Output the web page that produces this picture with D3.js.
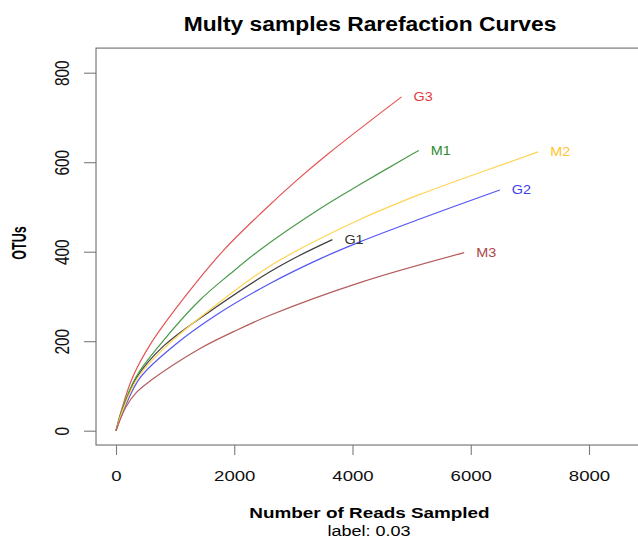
<!DOCTYPE html>
<html>
<head>
<meta charset="utf-8">
<script src="https://cdn.jsdelivr.net/npm/d3@7"></script>
<style>
  body { margin: 0; background: #fff; }
  svg { display: block; font-family: "Liberation Sans", Arial, Helvetica, sans-serif; }
</style>
</head>
<body>
<div id="chart-area"></div>
<script>
// DATA (reads sampled, OTUs)
// =================
var samples = ['G1', 'G2', 'G3', 'M1', 'M2', 'M3'];

var G1 = [[0, 0], [100, 44], [350, 119], [811, 190], [1702, 277], [2604, 355], [3111, 392], [3660, 427]];
var G2 = [[0, 0], [120, 43], [406, 118], [1000, 192], [1702, 259], [2604, 329], [3449, 384], [4125, 422], [5139, 473], [6492, 538]];
var G3 = [[0, 0], [90, 45], [276, 118], [586, 194], [1200, 305], [1826, 404], [2491, 491], [3026, 556], [3600, 620], [4830, 746]];
var M1 = [[0, 0], [95, 44], [333, 119], [756, 194], [1420, 292], [1927, 350], [2434, 404], [3449, 496], [4125, 550], [4970, 615], [5122, 626]];
var M2 = [[0, 0], [110, 44], [372, 119], [900, 195], [1702, 282], [2604, 368], [3449, 429], [4125, 472], [4435, 490], [5139, 528], [6267, 582], [7140, 623]];
var M3 = [[0, 0], [163, 52], [350, 86], [586, 112], [1400, 182], [2000, 222], [2604, 258], [4125, 331], [5889, 398]];

var curves = { G1: G1, G2: G2, G3: G3, M1: M1, M2: M2, M3: M3 };

var xTicks = [0, 2000, 4000, 6000, 8000];
var yTicks = [0, 200, 400, 600, 800];

var title = 'Multy samples Rarefaction Curves';
var xTitle = 'Number of Reads Sampled';
var subTitle = 'label: 0.03';
var yTitle = 'OTUs';

// STYLES
// =================
var lineColor = { G1: '#3c3c3c', G2: '#5555f5', G3: '#e45454', M1: '#4c9a4c', M2: '#ffd452', M3: '#b45c5c' };
var textColor = { G1: '#333333', G2: '#3d3de8', G3: '#e03c3c', M1: '#2e8a2e', M2: '#ffc42e', M3: '#ad4545' };
var stretch = 1.2;   // the picture's text is a bit wide

// CANVAS
// =================
var W = 638, H = 539;

var svg = d3.select('#chart-area')
    .append('svg')
        .attr('width', W)
        .attr('height', H);

svg.append('rect')
    .attr('width', W)
    .attr('height', H)
    .attr('fill', '#fff');

// SCALES
var x = d3.scaleLinear().domain([0, 8000]).range([116, 589]);
var y = d3.scaleLinear().domain([0, 800]).range([430.7, 72.7]);

// plot box (right side runs off the picture)
var bx0 = x(-338), bx1 = x(8990), by0 = y(855), by1 = y(-32);
svg.append('rect')
    .attr('x', bx0)
    .attr('y', by0)
    .attr('width', bx1 - bx0)
    .attr('height', by1 - by0)
    .attr('fill', 'none')
    .attr('stroke', '#6e6e6e')
    .attr('stroke-width', 1.1);

// AXES
// =================
var xAxis = d3.axisBottom(x)
    .tickValues(xTicks)
    .tickSize(10)
    .tickPadding(12)
    .tickFormat(d3.format('d'));

var gx = svg.append('g')
    .attr('class', 'x axis')
    .attr('transform', 'translate(0,' + by1 + ')')
    .call(xAxis);
gx.select('.domain').remove();
gx.selectAll('line').attr('stroke', '#7a7a7a').attr('stroke-width', 1.1);
gx.selectAll('text')
    .attr('font-size', '15.5px')
    .attr('fill', '#111')
    .attr('y', 0)
    .attr('dy', 0)
    .attr('transform', 'translate(0,35.5) scale(' + stretch + ',1)');

var yAxis = d3.axisLeft(y)
    .tickValues(yTicks)
    .tickSize(12)
    .tickFormat(d3.format('d'));

var gy = svg.append('g')
    .attr('class', 'y axis')
    .attr('transform', 'translate(' + bx0 + ',0)')
    .call(yAxis);
gy.select('.domain').remove();
gy.selectAll('line').attr('stroke', '#7a7a7a').attr('stroke-width', 1.1);
gy.selectAll('text')
    .attr('font-size', '15.5px')
    .attr('fill', '#111')
    .attr('x', 0)
    .attr('dy', 0)
    .attr('text-anchor', 'middle')
    .attr('transform', 'translate(-27.5,0) scale(1.3,1) rotate(-90)');

// CURVES
// =================
var line = d3.line()
    .x(function (d) { return x(d[0]); })
    .y(function (d) { return y(d[1]); })
    .curve(d3.curveCatmullRom.alpha(0.5));

svg.append('g')
    .selectAll('path')
    .data(samples)
    .enter()
    .append('path')
        .attr('d', function (s) { return line(curves[s]); })
        .attr('fill', 'none')
        .attr('stroke', function (s) { return lineColor[s]; })
        .attr('stroke-width', 1.2);

// sample names at the end of each curve
svg.append('g')
    .selectAll('text')
    .data(samples)
    .enter()
    .append('text')
        .attr('transform', function (s) {
            var last = curves[s][curves[s].length - 1];
            return 'translate(' + (x(last[0]) + 12) + ',' + (y(last[1]) + 4.3) + ') scale(' + stretch + ',1)';
        })
        .attr('font-size', '12px')
        .attr('fill', function (s) { return textColor[s]; })
        .text(function (s) { return s; });

// LABELS
// =================
svg.append('text')
    .attr('transform', 'translate(370,30.5) scale(1.17,1)')
    .attr('text-anchor', 'middle')
    .attr('font-size', '19.5px')
    .attr('font-weight', 'bold')
    .attr('fill', '#000')
    .text(title);

svg.append('text')
    .attr('transform', 'translate(369.5,518) scale(1.22,1)')
    .attr('text-anchor', 'middle')
    .attr('font-size', '15.5px')
    .attr('font-weight', 'bold')
    .attr('fill', '#000')
    .text(xTitle);

svg.append('text')
    .attr('transform', 'translate(369,535.5) scale(' + stretch + ',1)')
    .attr('text-anchor', 'middle')
    .attr('font-size', '15px')
    .attr('fill', '#000')
    .text(subTitle);

svg.append('text')
    .attr('transform', 'translate(25.5,243) scale(1.55,1) rotate(-90)')
    .attr('text-anchor', 'middle')
    .attr('font-size', '12.5px')
    .attr('font-weight', 'bold')
    .attr('fill', '#000')
    .text(yTitle);
</script>
</body>
</html>
